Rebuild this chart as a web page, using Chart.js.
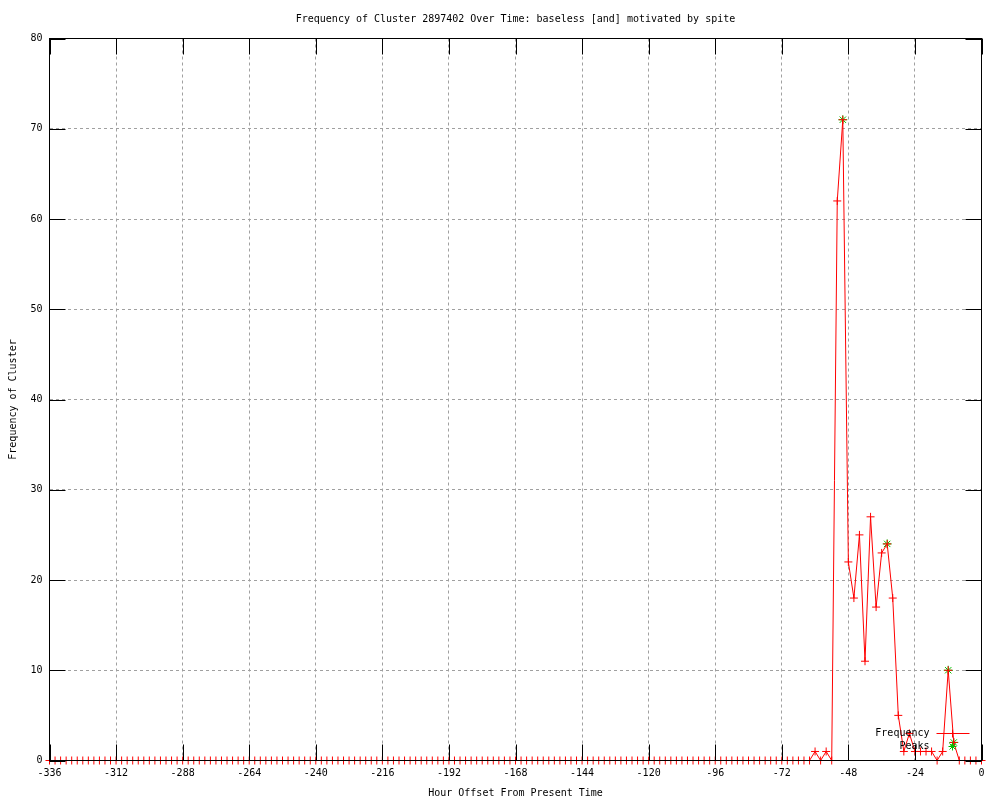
<!DOCTYPE html>
<html>
<head>
<meta charset="utf-8">
<title>Frequency of Cluster 2897402</title>
<style>
  html, body { margin: 0; padding: 0; background: #fff; }
  #wrap { width: 1000px; height: 800px; }
</style>
</head>
<body>
<div id="wrap"><canvas id="myChart" width="1000" height="800"></canvas></div>
<script src="https://cdn.jsdelivr.net/npm/chart.js@4/dist/chart.umd.min.js"></script>
<script>
// datos (un punto cada 2 horas)
var hours = [
  -336, -334, -332, -330, -328, -326, -324, -322, -320, -318, -316, -314,
  -312, -310, -308, -306, -304, -302, -300, -298, -296, -294, -292, -290,
  -288, -286, -284, -282, -280, -278, -276, -274, -272, -270, -268, -266,
  -264, -262, -260, -258, -256, -254, -252, -250, -248, -246, -244, -242,
  -240, -238, -236, -234, -232, -230, -228, -226, -224, -222, -220, -218,
  -216, -214, -212, -210, -208, -206, -204, -202, -200, -198, -196, -194,
  -192, -190, -188, -186, -184, -182, -180, -178, -176, -174, -172, -170,
  -168, -166, -164, -162, -160, -158, -156, -154, -152, -150, -148, -146,
  -144, -142, -140, -138, -136, -134, -132, -130, -128, -126, -124, -122,
  -120, -118, -116, -114, -112, -110, -108, -106, -104, -102, -100, -98,
  -96, -94, -92, -90, -88, -86, -84, -82, -80, -78, -76, -74,
  -72, -70, -68, -66, -64, -62, -60, -58, -56, -54, -52, -50,
  -48, -46, -44, -42, -40, -38, -36, -34, -32, -30, -28, -26,
  -24, -22, -20, -18, -16, -14, -12, -10, -8, -6, -4, -2,
  0
];
var frequency = [
  0, 0, 0, 0, 0, 0, 0, 0, 0, 0, 0, 0,
  0, 0, 0, 0, 0, 0, 0, 0, 0, 0, 0, 0,
  0, 0, 0, 0, 0, 0, 0, 0, 0, 0, 0, 0,
  0, 0, 0, 0, 0, 0, 0, 0, 0, 0, 0, 0,
  0, 0, 0, 0, 0, 0, 0, 0, 0, 0, 0, 0,
  0, 0, 0, 0, 0, 0, 0, 0, 0, 0, 0, 0,
  0, 0, 0, 0, 0, 0, 0, 0, 0, 0, 0, 0,
  0, 0, 0, 0, 0, 0, 0, 0, 0, 0, 0, 0,
  0, 0, 0, 0, 0, 0, 0, 0, 0, 0, 0, 0,
  0, 0, 0, 0, 0, 0, 0, 0, 0, 0, 0, 0,
  0, 0, 0, 0, 0, 0, 0, 0, 0, 0, 0, 0,
  0, 0, 0, 0, 0, 0, 1, 0, 1, 0, 62, 71,
  22, 18, 25, 11, 27, 17, 23, 24, 18, 5, 1, 3,
  1, 1, 1, 1, 0, 1, 10, 2, 0, 0, 0, 0,
  0
];
var peakHours = [-50, -34, -12, -10];
var peakValues = [71, 24, 10, 2];

var xTickStep = 24;
var yTickStep = 10;

var titleText = 'Frequency of Cluster 2897402 Over Time: baseless [and] motivated by spite';
var xTitle = 'Hour Offset From Present Time';
var yTitle = 'Frequency of Cluster';

var monoFont = { family: '"DejaVu Sans Mono", "Liberation Mono", monospace', size: 10, weight: 'normal', lineHeight: 1.2 };
var red = '#ff0000';
var green = '#00c000';

// marco negro + marcas hacia dentro (estilo gnuplot)
var framePlugin = {
  id: 'frame',
  afterDatasetsDraw: (chart) => {
    var ctx = chart.ctx;
    var a = chart.chartArea;
    var xs = chart.scales.x;
    var ys = chart.scales.y;
    var len = 16;
    ctx.save();
    ctx.strokeStyle = '#000';
    ctx.lineWidth = 1;
    ctx.strokeRect(a.left, a.top, a.right - a.left, a.bottom - a.top);
    ctx.beginPath();
    xs.ticks.forEach((t) => {
      var px = Math.round(xs.getPixelForValue(t.value)) + 0.5;
      ctx.moveTo(px, a.bottom); ctx.lineTo(px, a.bottom - len);
      ctx.moveTo(px, a.top); ctx.lineTo(px, a.top + len);
    });
    ys.ticks.forEach((t) => {
      var py = Math.round(ys.getPixelForValue(t.value)) + 0.5;
      ctx.moveTo(a.left, py); ctx.lineTo(a.left + len, py);
      ctx.moveTo(a.right, py); ctx.lineTo(a.right - len, py);
    });
    ctx.stroke();
    ctx.restore();
  }
};

// leyenda abajo a la derecha, dentro del area
var keyPlugin = {
  id: 'key',
  afterDatasetsDraw: (chart) => {
    var ctx = chart.ctx;
    var a = chart.chartArea;
    var textX = a.right - 52;
    var sx1 = a.right - 45;
    var sx2 = a.right - 12;
    var mx = a.right - 29;
    var rows = [a.bottom - 27, a.bottom - 14];
    ctx.save();
    ctx.font = '10px ' + monoFont.family;
    ctx.textAlign = 'right';
    ctx.textBaseline = 'middle';
    chart.data.datasets.forEach((ds, i) => {
      var y = rows[i];
      ctx.fillStyle = '#000';
      ctx.fillText(ds.label, textX, y);
      ctx.strokeStyle = ds.borderColor;
      ctx.lineWidth = 1;
      ctx.beginPath();
      if (ds.showLine !== false) {
        ctx.moveTo(sx1, y); ctx.lineTo(sx2, y);
      }
      var r = 4;
      ctx.moveTo(mx - r, y); ctx.lineTo(mx + r, y);
      ctx.moveTo(mx, y - r); ctx.lineTo(mx, y + r);
      if (ds.pointStyle == 'star') {
        var d = r * 0.75;
        ctx.moveTo(mx - d, y - d); ctx.lineTo(mx + d, y + d);
        ctx.moveTo(mx - d, y + d); ctx.lineTo(mx + d, y - d);
      }
      ctx.stroke();
    });
    ctx.restore();
  }
};

var freqPoints = hours.map((h, i) => ({ x: h, y: frequency[i] }));
var peakPoints = peakHours.map((h, i) => ({ x: h, y: peakValues[i] }));

var ctx = document.getElementById('myChart').getContext('2d');
var chart = new Chart(ctx, {
  type: 'line',
  data: {
    datasets: [{
      label: 'Frequency',
      data: freqPoints,
      borderColor: red,
      backgroundColor: red,
      borderWidth: 1,
      tension: 0,
      pointStyle: 'cross',
      pointRadius: 4,
      pointBorderWidth: 1,
      pointBorderColor: red,
      clip: false
    }, {
      label: 'Peaks',
      data: peakPoints,
      showLine: false,
      borderColor: green,
      backgroundColor: green,
      pointStyle: 'star',
      pointRadius: 4.5,
      pointBorderWidth: 1,
      pointBorderColor: green,
      clip: false
    }]
  },
  options: {
    responsive: false,
    animation: false,
    devicePixelRatio: 1,
    layout: { padding: { left: 0, top: 0, right: 18.5, bottom: 0 } },
    plugins: {
      legend: { display: false },
      tooltip: { enabled: false },
      title: {
        display: true,
        fullSize: false,
        text: titleText,
        color: '#000',
        font: monoFont,
        padding: { top: 13, bottom: 13.5 }
      }
    },
    scales: {
      x: {
        type: 'linear',
        min: -336,
        max: 0,
        afterFit: (s) => { s.height = 39.5; },
        ticks: { stepSize: xTickStep, color: '#000', font: monoFont, padding: 7, maxRotation: 0, autoSkip: false },
        grid: { color: '#a0a0a0', lineWidth: 1, drawTicks: false },
        border: { display: false, dash: [3, 3] },
        title: { display: true, text: xTitle, color: '#000', font: monoFont, padding: { top: 0, bottom: 1 } }
      },
      y: {
        type: 'linear',
        min: 0,
        max: 80,
        afterFit: (s) => { s.width = 49.5; },
        ticks: { stepSize: yTickStep, color: '#000', font: monoFont, padding: 7 },
        grid: { color: '#a0a0a0', lineWidth: 1, drawTicks: false },
        border: { display: false, dash: [3, 3] },
        title: { display: true, text: yTitle, color: '#000', font: monoFont, padding: { top: 7, bottom: 0 } }
      }
    }
  },
  plugins: [framePlugin, keyPlugin]
});
</script>
</body>
</html>
